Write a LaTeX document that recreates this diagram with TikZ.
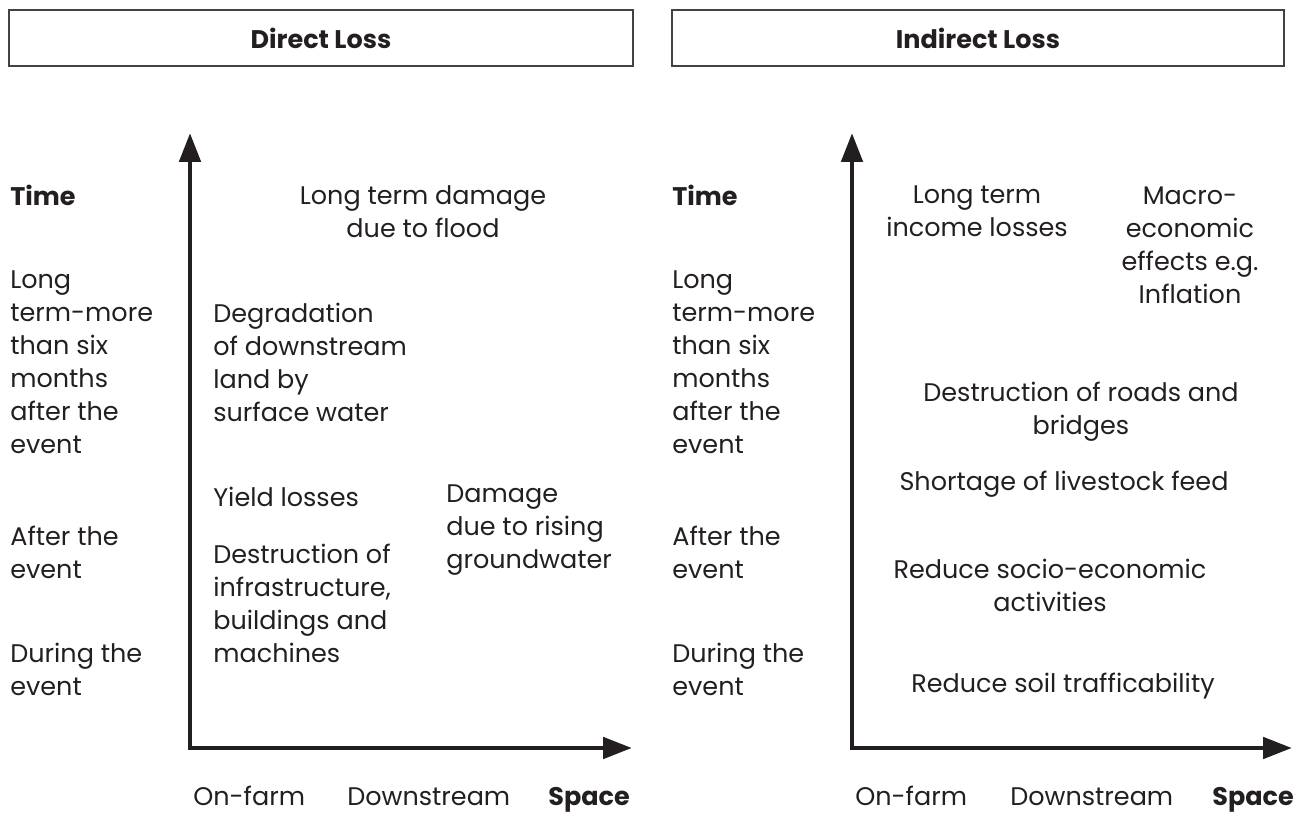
\documentclass[tikz,border=0pt]{standalone}
\usepackage{fontspec}
\setmainfont{Poppins}
\usetikzlibrary{arrows.meta}
\definecolor{ink}{HTML}{231F20}
\newcommand{\txtsize}{\fontsize{14.5}{18.8}\selectfont}
\tikzset{
  titlebox/.style={draw=ink!85,line width=0.8pt,minimum width=12.48cm,minimum height=1.12cm,font=\txtsize\bfseries},
  lbl/.style={align=left,anchor=west,inner sep=0pt},
  clbl/.style={align=center,inner sep=0pt},
  axlbl/.style={anchor=base west,inner sep=0pt},
  axis/.style={line width=2.8pt,{Triangle[length=0.58cm,width=0.42cm]}-{Triangle[length=0.58cm,width=0.42cm]}}
}
\begin{document}
\begin{tikzpicture}[text=ink,font=\txtsize]
  \useasboundingbox (0,0) rectangle (25.92,16.32);
  % headers
  \node[titlebox] (direct) at (6.42,15.56) {Direct Loss};
  \node[titlebox,minimum width=12.24cm] (indirect) at (19.56,15.56) {Indirect Loss};
  % left panel
  \coordinate (dtop) at (3.8,13.66);
  \coordinate (dorig) at (3.8,1.36);
  \coordinate (dright) at (12.64,1.36);
  \draw[axis,draw=ink] (dtop) -- (dorig) -- (dright);
  \node[lbl] (dtime) at (0.2,12.42) {\textbf{Time}};
  \node[lbl] (dlong) at (0.2,9.08) {Long\\term-more\\than six\\months\\after the\\event};
  \node[lbl] (dafter) at (0.2,5.28) {After the\\event};
  \node[lbl] (dduring) at (0.2,2.94) {During the\\event};
  \node[clbl] (flood) at (8.46,12.09) {Long term damage\\due to flood};
  \node[lbl] (degrad) at (4.26,9.08) {Degradation\\of downstream\\land by\\surface water};
  \node[lbl] (yield) at (4.26,6.38) {Yield losses};
  \node[lbl] (destr) at (4.26,4.26) {Destruction of\\infrastructure,\\buildings and\\machines};
  \node[lbl] (ground) at (8.92,5.72) {Damage\\due to rising\\groundwater};
  \node[axlbl] (donfarm) at (3.86,0.2) {On-farm};
  \node[axlbl] (ddown) at (6.94,0.2) {Downstream};
  \node[axlbl] (dspace) at (10.96,0.2) {\textbf{Space}};
  % right panel
  \coordinate (itop) at (17.04,13.66);
  \coordinate (iorig) at (17.04,1.36);
  \coordinate (iright) at (25.84,1.36);
  \draw[axis,draw=ink] (itop) -- (iorig) -- (iright);
  \node[lbl] (itime) at (13.44,12.42) {\textbf{Time}};
  \node[lbl] (ilong) at (13.44,9.08) {Long\\term-more\\than six\\months\\after the\\event};
  \node[lbl] (iafter) at (13.44,5.28) {After the\\event};
  \node[lbl] (iduring) at (13.44,2.94) {During the\\event};
  \node[clbl] (income) at (19.54,12.09) {Long term\\income losses};
  \node[clbl] (macro) at (23.8,11.41) {Macro-\\economic\\effects e.g.\\Inflation};
  \node[clbl] (roads) at (21.62,8.09) {Destruction of roads and\\bridges};
  \node[clbl] (feed) at (21.28,6.64) {Shortage of livestock feed};
  \node[clbl] (socio) at (21.0,4.61) {Reduce socio-economic\\activities};
  \node[clbl] (soil) at (21.26,2.6) {Reduce soil trafficability};
  \node[axlbl] (ionfarm) at (17.1,0.2) {On-farm};
  \node[axlbl] (idown) at (20.2,0.2) {Downstream};
  \node[axlbl] (ispace) at (24.24,0.2) {\textbf{Space}};
\end{tikzpicture}
\end{document}
